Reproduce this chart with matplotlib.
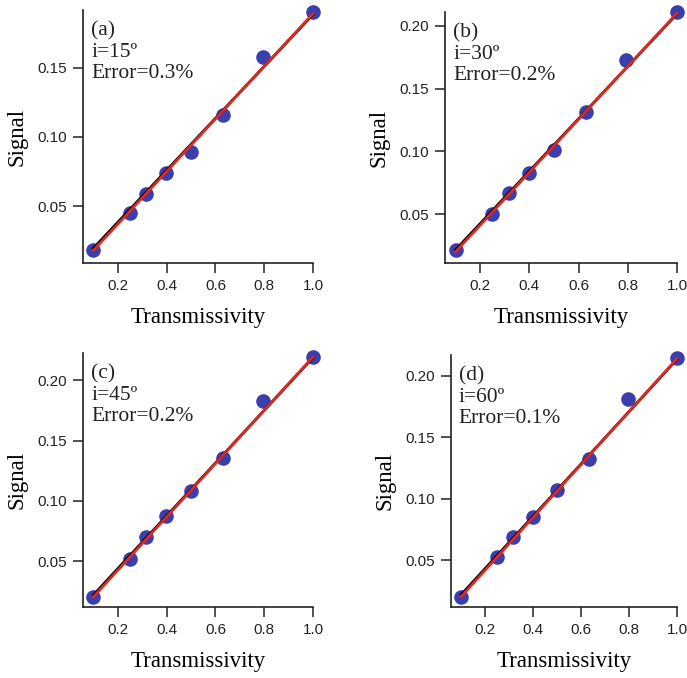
import matplotlib
matplotlib.use('Agg')
import matplotlib.pyplot as plt

# transmissivity of the filters (same for every panel)
trans = [0.1, 0.25, 0.316, 0.398, 0.5, 0.631, 0.794, 1.0]

# measured signal, one list per incidence angle
sig_a = [0.018, 0.045, 0.059, 0.074, 0.089, 0.116, 0.158, 0.190]
sig_b = [0.021, 0.050, 0.0665, 0.083, 0.101, 0.131, 0.173, 0.211]
sig_c = [0.020, 0.052, 0.070, 0.0877, 0.108, 0.1355, 0.183, 0.2195]
sig_d = [0.020, 0.0527, 0.0685, 0.0853, 0.1068, 0.132, 0.181, 0.2144]

# fitted lines, read as end points at T=0.1 and T=1.0
fit_x = [0.1, 1.0]
red_a, blk_a = [0.0180, 0.1890], [0.0195, 0.1885]
red_b, blk_b = [0.0200, 0.2100], [0.0215, 0.2095]
red_c, blk_c = [0.0205, 0.2195], [0.0220, 0.2190]
red_d, blk_d = [0.0205, 0.2140], [0.0220, 0.2135]

labels = ['(a)', '(b)', '(c)', '(d)']
angles = ['i=15º', 'i=30º', 'i=45º', 'i=60º']
errors = ['Error=0.3%', 'Error=0.2%', 'Error=0.2%', 'Error=0.1%']
ylims = [(0.0088, 0.1917), (0.011, 0.211), (0.012, 0.2228), (0.0119, 0.217)]
yticks = [[0.05, 0.10, 0.15], [0.05, 0.10, 0.15, 0.20], [0.05, 0.10, 0.15, 0.20], [0.05, 0.10, 0.15, 0.20]]

W, H = 687, 678
# axes boxes in pixels: left, top, right, bottom
boxes = [(83, 10, 313, 263), (445, 12, 677, 263), (83, 353, 313, 607), (451, 355, 677, 607)]

sigs = [sig_a, sig_b, sig_c, sig_d]
reds = [red_a, red_b, red_c, red_d]
blks = [blk_a, blk_b, blk_c, blk_d]

serif = 'Liberation Serif'
sans = 'Liberation Sans'
blue = '#3b3fae'
red = '#e0281e'

fig = plt.figure(figsize=(W / 100, H / 100), dpi=100)

for k in range(4):
    l, t, r, b = boxes[k]
    ax = fig.add_axes([l / W, 1 - b / H, (r - l) / W, (b - t) / H])
    ax.plot(trans, sigs[k], 'o', color=blue, ms=10.5, mec='none', zorder=2, clip_on=False)
    ax.plot(fit_x, blks[k], color='black', lw=2.0, zorder=3, clip_on=False)
    ax.plot(fit_x, reds[k], color=red, lw=2.0, zorder=4, clip_on=False)

    ax.set_xlim(0.057, 1.0)
    ax.set_ylim(*ylims[k])
    ax.set_xticks([0.2, 0.4, 0.6, 0.8, 1.0])
    ax.set_xticklabels(['0.2', '0.4', '0.6', '0.8', '1.0'])
    ax.set_yticks(yticks[k])
    ax.set_yticklabels(['%.2f' % v for v in yticks[k]])
    for s in ['top', 'right']:
        ax.spines[s].set_visible(False)
    for s in ['left', 'bottom']:
        ax.spines[s].set_linewidth(1.2)
        ax.spines[s].set_color('#222222')
    ax.tick_params(direction='out', length=7.5, width=1.1, color='#222222', labelsize=11, pad=4)
    for lab in ax.get_xticklabels() + ax.get_yticklabels():
        lab.set_family(sans)
        lab.set_color('#222222')
    ax.set_xlabel('Transmissivity', family=serif, fontsize=16.5, labelpad=10)
    ax.set_ylabel('Signal', family=serif, fontsize=16.5, labelpad=7)

    ax.text(0.035, 0.955, labels[k] + '\n' + angles[k] + '\n' + errors[k], transform=ax.transAxes,
            ha='left', va='top', family=serif, fontsize=15.5, linespacing=1.17, color='#222222')

fig.savefig('out.png', dpi=100)
